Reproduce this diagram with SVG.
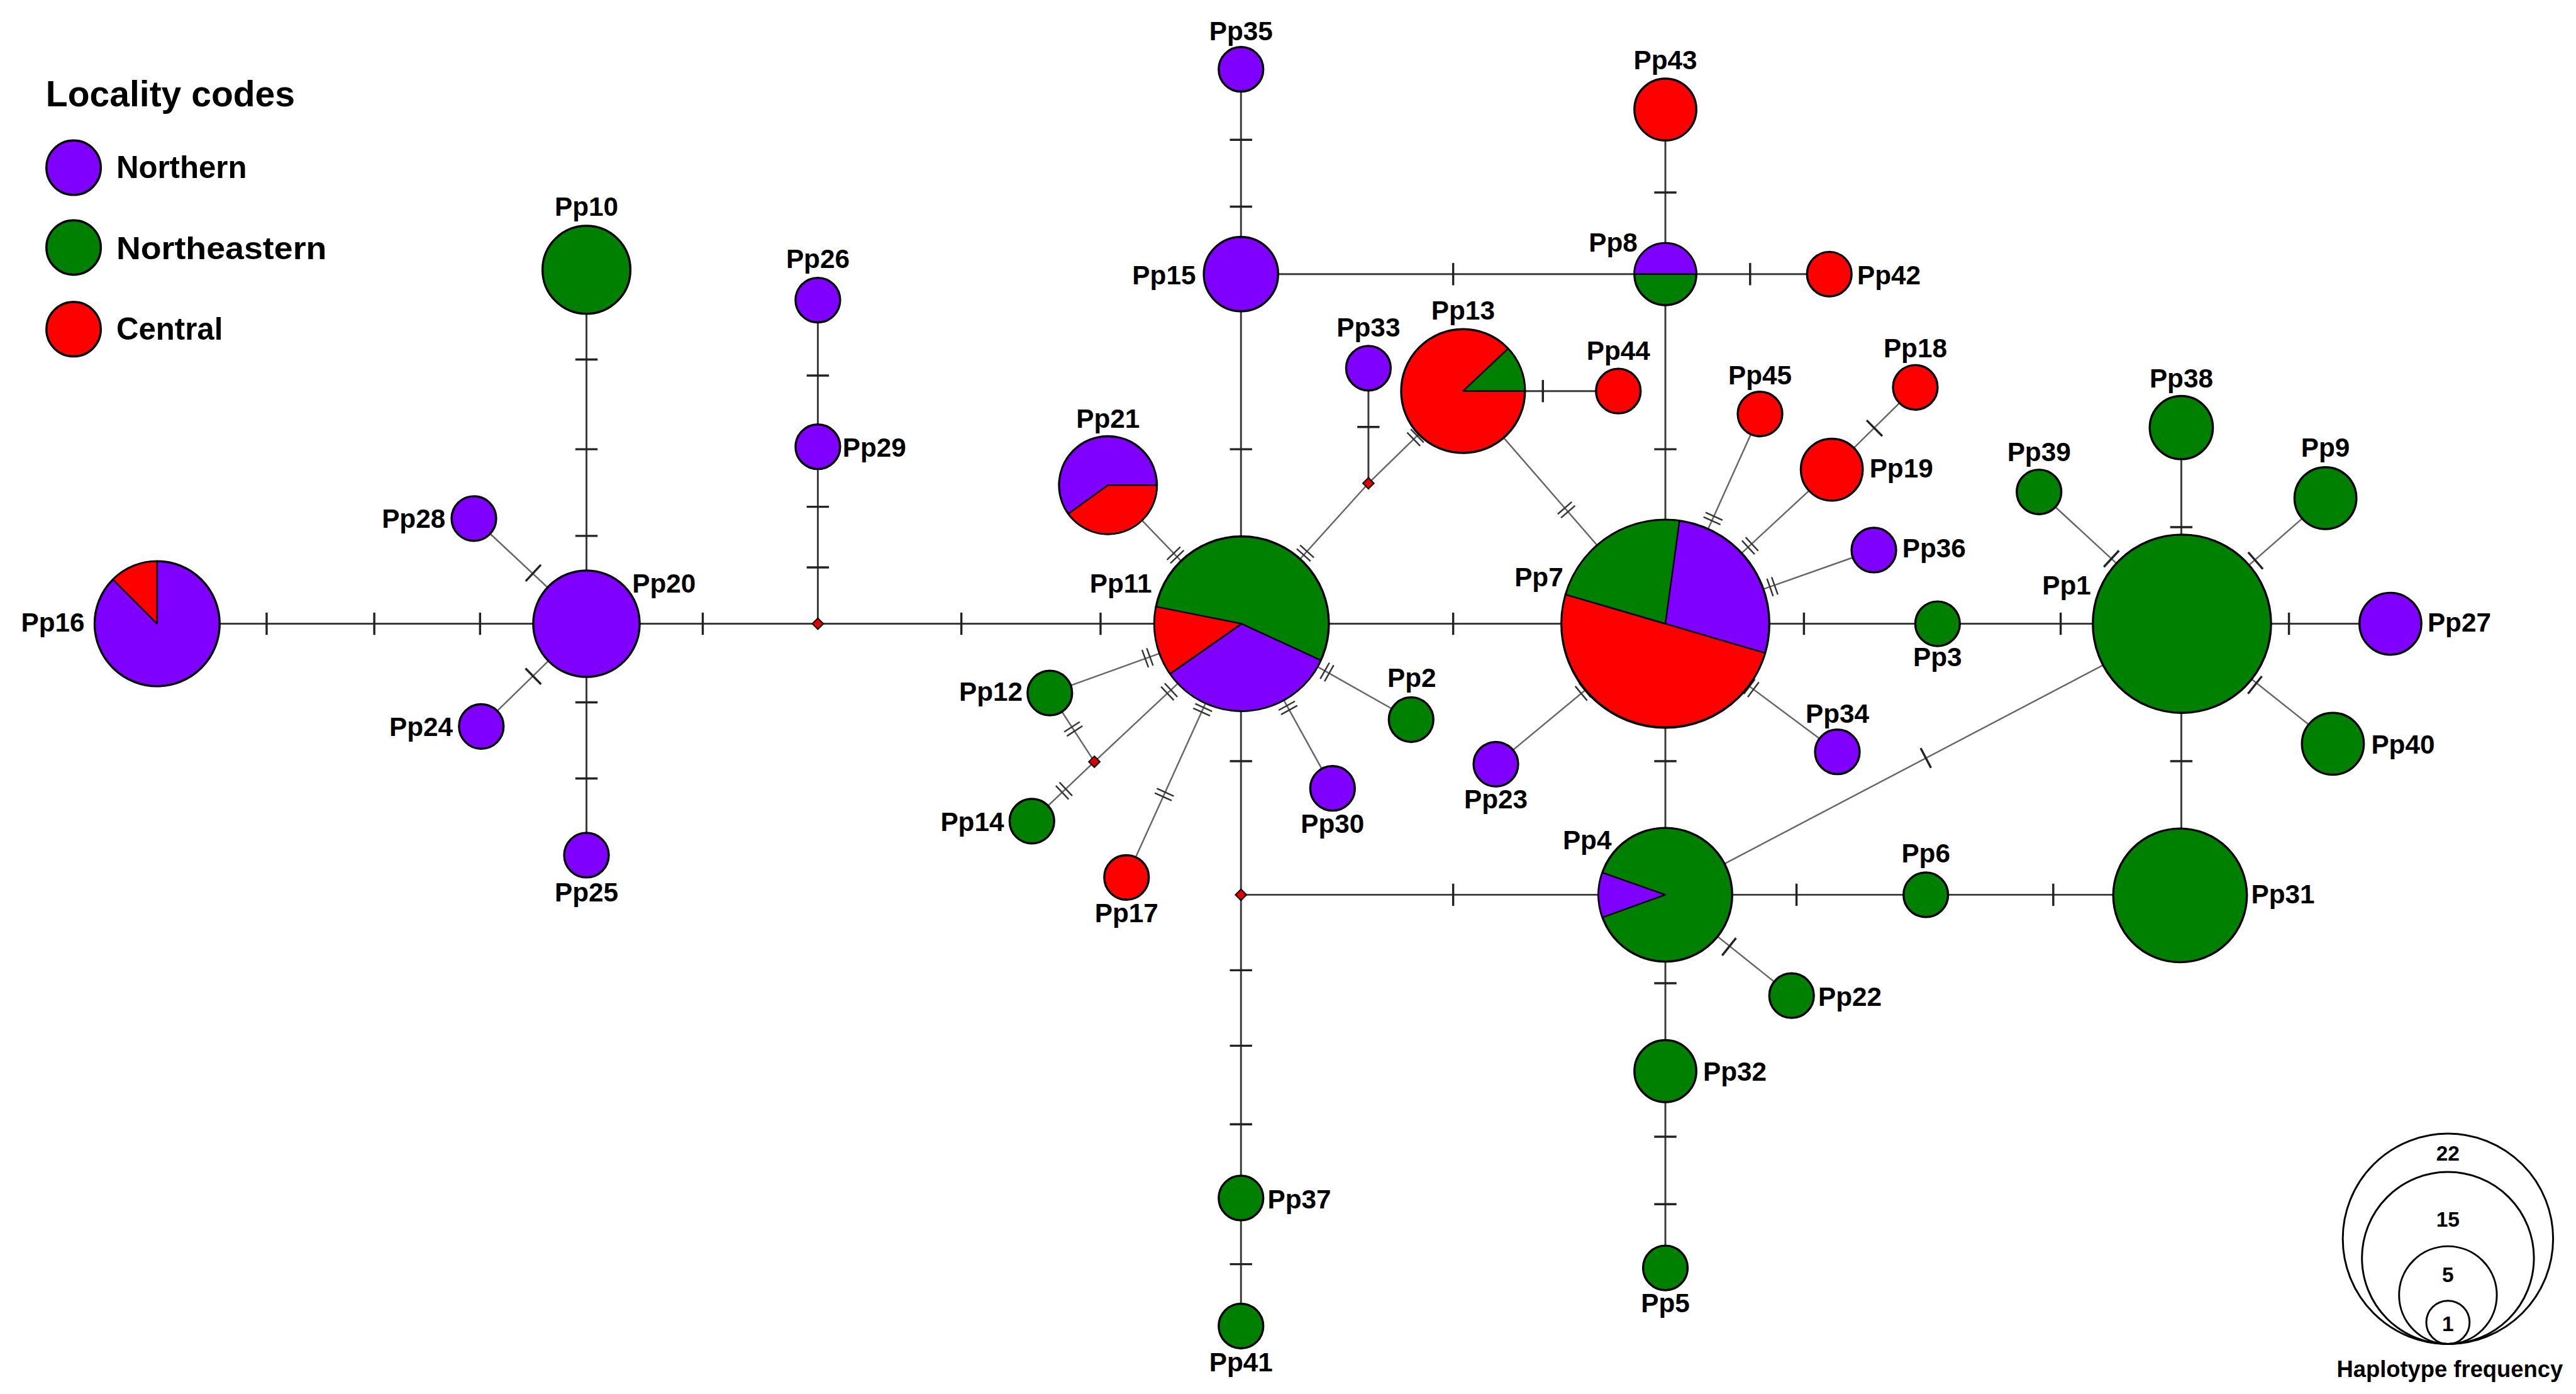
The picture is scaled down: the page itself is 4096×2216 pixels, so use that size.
<svg xmlns="http://www.w3.org/2000/svg" xmlns:xlink="http://www.w3.org/1999/xlink" width="4096" height="2216" viewBox="0 0 4096 2216">
<style>
.n{stroke:#000;stroke-width:3.5}
.w{stroke:#000;stroke-width:2.5;stroke-linejoin:round}
.pu{fill:#7F00FF}.gr{fill:#008000}.rd{fill:#FF0000}
.lb{font-family:"Liberation Sans",Arial,sans-serif;font-weight:bold;font-size:43px;fill:#000}
.s{stroke:#3a3a3a;stroke-width:3;fill:none}
.d{stroke:#666;stroke-width:2.5;fill:none}
.tk{stroke:#222;stroke-width:3.5}
.tk2{stroke:#333;stroke-width:2.5}
.sz{fill:none;stroke:#000;stroke-width:3}
</style>
<defs>
<line id="tk" class="tk" x1="0" y1="-18" x2="0" y2="18"/>
<g id="tk2" class="tk2"><line x1="-4" y1="-15" x2="-4" y2="15"/><line x1="4" y1="-15" x2="4" y2="15"/></g>
<path id="mv" d="M0,-9 L9,0 L0,9 L-9,0 Z" fill="#E00000" stroke="#000" stroke-width="2"/>
</defs>
<rect width="4096" height="2216" fill="#fff"/>
<g transform="scale(0.98367)">
<g id="connectors">
<line class="s" x1="254" y1="1008" x2="3864" y2="1008"/>
<line class="s" x1="948" y1="436" x2="948" y2="1382"/>
<line class="s" x1="1322" y1="485" x2="1322" y2="1008"/>
<line class="s" x1="2006" y1="112" x2="2006" y2="2143"/>
<line class="s" x1="2692" y1="177" x2="2692" y2="2049"/>
<line class="s" x1="2212" y1="595" x2="2212" y2="781"/>
<line class="s" x1="3526" y1="691" x2="3526" y2="1447"/>
<line class="s" x1="2006" y1="443" x2="2957" y2="443"/>
<line class="s" x1="2365" y1="632" x2="2616" y2="632"/>
<line class="s" x1="2006" y1="1446" x2="3526" y2="1446"/>
<line class="d" x1="766" y1="838" x2="948" y2="1008"/>
<line class="d" x1="778" y1="1174" x2="948" y2="1008"/>
<line class="d" x1="1791" y1="784" x2="2007" y2="1008"/>
<line class="d" x1="2007" y1="1008" x2="2212" y2="781"/>
<line class="d" x1="2212" y1="781" x2="2365" y2="632"/>
<line class="d" x1="2365" y1="632" x2="2692" y2="1008"/>
<line class="d" x1="1697" y1="1120" x2="2007" y2="1008"/>
<line class="d" x1="1697" y1="1120" x2="1769" y2="1231"/>
<line class="d" x1="1668" y1="1327" x2="1769" y2="1231"/>
<line class="d" x1="1769" y1="1231" x2="2007" y2="1008"/>
<line class="d" x1="1821" y1="1418" x2="2007" y2="1008"/>
<line class="d" x1="2154" y1="1274" x2="2007" y2="1008"/>
<line class="d" x1="2281" y1="1163" x2="2007" y2="1008"/>
<line class="d" x1="2418" y1="1235" x2="2692" y2="1008"/>
<line class="d" x1="2845" y1="669" x2="2692" y2="1008"/>
<line class="d" x1="2961" y1="759" x2="2692" y2="1008"/>
<line class="d" x1="3096" y1="626" x2="2961" y2="759"/>
<line class="d" x1="3029" y1="889" x2="2692" y2="1008"/>
<line class="d" x1="2970" y1="1215" x2="2692" y2="1008"/>
<line class="d" x1="3296" y1="795" x2="3527" y2="1008"/>
<line class="d" x1="3759" y1="805" x2="3527" y2="1008"/>
<line class="d" x1="3771" y1="1202" x2="3527" y2="1008"/>
<line class="d" x1="2692" y1="1446" x2="3527" y2="1008"/>
<line class="d" x1="2692" y1="1446" x2="2896" y2="1609"/>
<g id="ticks">
<use xlink:href="#tk" transform="translate(431,1008)"/>
<use xlink:href="#tk" transform="translate(605,1008)"/>
<use xlink:href="#tk" transform="translate(776,1008)"/>
<use xlink:href="#tk" transform="translate(1136,1008)"/>
<use xlink:href="#tk" transform="translate(1554,1008)"/>
<use xlink:href="#tk" transform="translate(1779,1008)"/>
<use xlink:href="#tk" transform="translate(2349,1008)"/>
<use xlink:href="#tk" transform="translate(2916,1008)"/>
<use xlink:href="#tk" transform="translate(3331,1008)"/>
<use xlink:href="#tk" transform="translate(3700,1008)"/>
<use xlink:href="#tk" transform="translate(948,581) rotate(90)"/>
<use xlink:href="#tk" transform="translate(948,726) rotate(90)"/>
<use xlink:href="#tk" transform="translate(948,866) rotate(90)"/>
<use xlink:href="#tk" transform="translate(948,1135) rotate(90)"/>
<use xlink:href="#tk" transform="translate(948,1258) rotate(90)"/>
<use xlink:href="#tk" transform="translate(1322,607) rotate(90)"/>
<use xlink:href="#tk" transform="translate(1322,819) rotate(90)"/>
<use xlink:href="#tk" transform="translate(1322,917) rotate(90)"/>
<use xlink:href="#tk" transform="translate(2006,226) rotate(90)"/>
<use xlink:href="#tk" transform="translate(2006,334) rotate(90)"/>
<use xlink:href="#tk" transform="translate(2006,726) rotate(90)"/>
<use xlink:href="#tk" transform="translate(2006,1230) rotate(90)"/>
<use xlink:href="#tk" transform="translate(2006,1568) rotate(90)"/>
<use xlink:href="#tk" transform="translate(2006,1690) rotate(90)"/>
<use xlink:href="#tk" transform="translate(2006,1817) rotate(90)"/>
<use xlink:href="#tk" transform="translate(2006,2043) rotate(90)"/>
<use xlink:href="#tk" transform="translate(2692,311) rotate(90)"/>
<use xlink:href="#tk" transform="translate(2692,726) rotate(90)"/>
<use xlink:href="#tk" transform="translate(2692,1230) rotate(90)"/>
<use xlink:href="#tk" transform="translate(2692,1589) rotate(90)"/>
<use xlink:href="#tk" transform="translate(2692,1837) rotate(90)"/>
<use xlink:href="#tk" transform="translate(2692,1946) rotate(90)"/>
<use xlink:href="#tk" transform="translate(2212,690) rotate(90)"/>
<use xlink:href="#tk" transform="translate(3526,852) rotate(90)"/>
<use xlink:href="#tk" transform="translate(3526,1230) rotate(90)"/>
<use xlink:href="#tk" transform="translate(2349,443)"/>
<use xlink:href="#tk" transform="translate(2829,443)"/>
<use xlink:href="#tk" transform="translate(2494,632)"/>
<use xlink:href="#tk" transform="translate(2349,1446)"/>
<use xlink:href="#tk" transform="translate(2904,1446)"/>
<use xlink:href="#tk" transform="translate(3319,1446)"/>
<use xlink:href="#tk" transform="translate(862,926) rotate(43)"/>
<use xlink:href="#tk" transform="translate(862,1093) rotate(-44.3)"/>
<use xlink:href="#tk" transform="translate(3030,692) rotate(-44.6)"/>
<use xlink:href="#tk" transform="translate(3413,903) rotate(42.7)"/>
<use xlink:href="#tk" transform="translate(3646,906) rotate(-41.1)"/>
<use xlink:href="#tk" transform="translate(3645,1107) rotate(38.4)"/>
<use xlink:href="#tk" transform="translate(3113,1225) rotate(-27.7)"/>
<use xlink:href="#tk" transform="translate(2795,1530) rotate(38.6)"/>
<use xlink:href="#tk2" transform="translate(1900,897) rotate(46)"/>
<use xlink:href="#tk2" transform="translate(2110,894) rotate(-47.9)"/>
<use xlink:href="#tk2" transform="translate(2288,707) rotate(-44.2)"/>
<use xlink:href="#tk2" transform="translate(2532,824) rotate(49)"/>
<use xlink:href="#tk2" transform="translate(1855,1063) rotate(-19.9)"/>
<use xlink:href="#tk2" transform="translate(1735,1178) rotate(57)"/>
<use xlink:href="#tk2" transform="translate(1720,1278) rotate(-43.5)"/>
<use xlink:href="#tk2" transform="translate(1890,1118) rotate(-43.1)"/>
<use xlink:href="#tk2" transform="translate(1882,1284) rotate(-65.6)"/>
<use xlink:href="#tk2" transform="translate(1944,1147) rotate(-65.6)"/>
<use xlink:href="#tk2" transform="translate(2082,1144) rotate(61.1)"/>
<use xlink:href="#tk2" transform="translate(2145,1086) rotate(29.5)"/>
<use xlink:href="#tk2" transform="translate(2559,1118) rotate(-39.6)"/>
<use xlink:href="#tk2" transform="translate(2769,838) rotate(-65.7)"/>
<use xlink:href="#tk2" transform="translate(2829,882) rotate(-42.8)"/>
<use xlink:href="#tk2" transform="translate(2865,948) rotate(-19.4)"/>
<use xlink:href="#tk2" transform="translate(2831,1112) rotate(36.7)"/>
</g>
</g>
<g id="mv1"><use xlink:href="#mv" transform="translate(1322,1008)"/></g>
<g id="mv2"><use xlink:href="#mv" transform="translate(2212,781)"/></g>
<g id="mv3"><use xlink:href="#mv" transform="translate(1769,1231)"/></g>
<g id="mv4"><use xlink:href="#mv" transform="translate(2006,1446)"/></g>
<g id="Pp16"><circle class="n pu" cx="254" cy="1008" r="101"/><path class="w rd" d="M254,1008 L182.6,936.6 A101,101 0 0 1 254,907 Z"/><text class="lb" x="34" y="1021">Pp16</text></g>
<g id="Pp20"><circle class="n pu" cx="948" cy="1008" r="86"/><text class="lb" x="1022" y="958">Pp20</text></g>
<g id="Pp10"><circle class="n gr" cx="948" cy="436" r="71"/><text class="lb" x="948" y="349" text-anchor="middle">Pp10</text></g>
<g id="Pp26"><circle class="n pu" cx="1322" cy="485" r="36"/><text class="lb" x="1322" y="433" text-anchor="middle">Pp26</text></g>
<g id="Pp29"><circle class="n pu" cx="1322" cy="722" r="36"/><text class="lb" x="1362" y="738">Pp29</text></g>
<g id="Pp28"><circle class="n pu" cx="766" cy="838" r="36"/><text class="lb" x="720" y="853" text-anchor="end">Pp28</text></g>
<g id="Pp24"><circle class="n pu" cx="778" cy="1174" r="36"/><text class="lb" x="732" y="1189" text-anchor="end">Pp24</text></g>
<g id="Pp25"><circle class="n pu" cx="948" cy="1382" r="36"/><text class="lb" x="948" y="1457" text-anchor="middle">Pp25</text></g>
<g id="Pp35"><circle class="n pu" cx="2006" cy="112" r="36"/><text class="lb" x="2006" y="65" text-anchor="middle">Pp35</text></g>
<g id="Pp15"><circle class="n pu" cx="2006" cy="443" r="60"/><text class="lb" x="1933" y="459" text-anchor="end">Pp15</text></g>
<g id="Pp8"><circle class="n gr" cx="2692" cy="443" r="50"/><path class="w pu" d="M2642,443 A50,50 0 0 1 2742,443 Z"/><text class="lb" x="2647" y="407" text-anchor="end">Pp8</text></g>
<g id="Pp43"><circle class="n rd" cx="2692" cy="177" r="50"/><text class="lb" x="2692" y="112" text-anchor="middle">Pp43</text></g>
<g id="Pp42"><circle class="n rd" cx="2957" cy="443" r="36"/><text class="lb" x="3002" y="459">Pp42</text></g>
<g id="Pp13"><circle class="n rd" cx="2365" cy="632" r="100"/><path class="w gr" d="M2365,632 L2437.8,563.4 A100,100 0 0 1 2465,632 Z"/><text class="lb" x="2365" y="516" text-anchor="middle">Pp13</text></g>
<g id="Pp44"><circle class="n rd" cx="2616" cy="632" r="36"/><text class="lb" x="2616" y="582" text-anchor="middle">Pp44</text></g>
<g id="Pp33"><circle class="n pu" cx="2212" cy="595" r="36"/><text class="lb" x="2212" y="544" text-anchor="middle">Pp33</text></g>
<g id="Pp21"><circle class="n pu" cx="1791" cy="784" r="79"/><path class="w rd" d="M1791,784 L1870,784 A79,79 0 0 1 1727.1,830.4 Z"/><text class="lb" x="1791" y="691" text-anchor="middle">Pp21</text></g>
<g id="Pp11"><circle class="n gr" cx="2007" cy="1008" r="141"/><path class="w pu" d="M2007,1008 L2135,1067.1 A141,141 0 0 1 1891.5,1088.9 Z"/><path class="w rd" d="M2007,1008 L1891.5,1088.9 A141,141 0 0 1 1868.7,980.4 Z"/><text class="lb" x="1862" y="958" text-anchor="end">Pp11</text></g>
<g id="Pp7"><circle class="n pu" cx="2692" cy="1008" r="168"/><path class="w rd" d="M2692,1008 L2853.2,1055.4 A168,168 0 0 1 2530.8,960.8 Z"/><path class="w gr" d="M2692,1008 L2530.8,960.8 A168,168 0 0 1 2714.8,841.6 Z"/><text class="lb" x="2527" y="947" text-anchor="end">Pp7</text></g>
<g id="Pp45"><circle class="n rd" cx="2845" cy="669" r="36"/><text class="lb" x="2845" y="621" text-anchor="middle">Pp45</text></g>
<g id="Pp18"><circle class="n rd" cx="3096" cy="626" r="36"/><text class="lb" x="3096" y="577" text-anchor="middle">Pp18</text></g>
<g id="Pp19"><circle class="n rd" cx="2961" cy="759" r="50"/><text class="lb" x="3022" y="772">Pp19</text></g>
<g id="Pp36"><circle class="n pu" cx="3029" cy="889" r="36"/><text class="lb" x="3075" y="901">Pp36</text></g>
<g id="Pp3"><circle class="n gr" cx="3132" cy="1008" r="36"/><text class="lb" x="3132" y="1077" text-anchor="middle">Pp3</text></g>
<g id="Pp1"><circle class="n gr" cx="3527" cy="1008" r="144"/><text class="lb" x="3380" y="961" text-anchor="end">Pp1</text></g>
<g id="Pp38"><circle class="n gr" cx="3526" cy="691" r="51"/><text class="lb" x="3526" y="626" text-anchor="middle">Pp38</text></g>
<g id="Pp39"><circle class="n gr" cx="3296" cy="795" r="36"/><text class="lb" x="3296" y="745" text-anchor="middle">Pp39</text></g>
<g id="Pp9"><circle class="n gr" cx="3759" cy="805" r="50"/><text class="lb" x="3759" y="738" text-anchor="middle">Pp9</text></g>
<g id="Pp27"><circle class="n pu" cx="3864" cy="1008" r="50"/><text class="lb" x="3924" y="1021">Pp27</text></g>
<g id="Pp40"><circle class="n gr" cx="3771" cy="1202" r="50"/><text class="lb" x="3833" y="1218">Pp40</text></g>
<g id="Pp34"><circle class="n pu" cx="2970" cy="1215" r="36"/><text class="lb" x="2970" y="1168" text-anchor="middle">Pp34</text></g>
<g id="Pp31"><circle class="n gr" cx="3524" cy="1447" r="108"/><text class="lb" x="3639" y="1460">Pp31</text></g>
<g id="Pp6"><circle class="n gr" cx="3113" cy="1446" r="36"/><text class="lb" x="3113" y="1394" text-anchor="middle">Pp6</text></g>
<g id="Pp22"><circle class="n gr" cx="2896" cy="1609" r="36"/><text class="lb" x="2939" y="1626">Pp22</text></g>
<g id="Pp4"><circle class="n gr" cx="2692" cy="1446" r="108"/><path class="w pu" d="M2692,1446 L2590.4,1482.6 A108,108 0 0 1 2590.1,1410.1 Z"/><text class="lb" x="2605" y="1372" text-anchor="end">Pp4</text></g>
<g id="Pp2"><circle class="n gr" cx="2281" cy="1163" r="36"/><text class="lb" x="2282" y="1110" text-anchor="middle">Pp2</text></g>
<g id="Pp12"><circle class="n gr" cx="1697" cy="1120" r="36"/><text class="lb" x="1653" y="1133" text-anchor="end">Pp12</text></g>
<g id="Pp14"><circle class="n gr" cx="1668" cy="1327" r="36"/><text class="lb" x="1623" y="1343" text-anchor="end">Pp14</text></g>
<g id="Pp17"><circle class="n rd" cx="1821" cy="1418" r="36"/><text class="lb" x="1821" y="1490" text-anchor="middle">Pp17</text></g>
<g id="Pp30"><circle class="n pu" cx="2154" cy="1274" r="36"/><text class="lb" x="2154" y="1346" text-anchor="middle">Pp30</text></g>
<g id="Pp23"><circle class="n pu" cx="2418" cy="1235" r="36"/><text class="lb" x="2418" y="1306" text-anchor="middle">Pp23</text></g>
<g id="Pp32"><circle class="n gr" cx="2692" cy="1731" r="50"/><text class="lb" x="2753" y="1747">Pp32</text></g>
<g id="Pp5"><circle class="n gr" cx="2692" cy="2049" r="36"/><text class="lb" x="2692" y="2121" text-anchor="middle">Pp5</text></g>
<g id="Pp37"><circle class="n gr" cx="2006" cy="1936" r="36"/><text class="lb" x="2049" y="1953">Pp37</text></g>
<g id="Pp41"><circle class="n gr" cx="2006" cy="2143" r="36"/><text class="lb" x="2006" y="2216" text-anchor="middle">Pp41</text></g>
<g id="legend-locality">
<text class="lb" x="74" y="172" style="font-size:58px">Locality codes</text>
<circle class="n pu" cx="119" cy="271" r="44"/>
<circle class="n gr" cx="119" cy="400" r="44"/>
<circle class="n rd" cx="119" cy="532" r="44"/>
<text class="lb" x="188" y="288" style="font-size:50px">Northern</text>
<text class="lb" x="188" y="419" style="font-size:50px" textLength="340" lengthAdjust="spacingAndGlyphs">Northeastern</text>
<text class="lb" x="188" y="549" style="font-size:50px">Central</text>
</g>
<g id="legend-size">
<circle class="sz" cx="3957" cy="2002" r="170"/>
<circle class="sz" cx="3957" cy="2033" r="139"/>
<circle class="sz" cx="3957" cy="2093" r="79"/>
<circle class="sz" cx="3957" cy="2137" r="35"/>
<text class="lb" x="3957" y="1876" text-anchor="middle" style="font-size:34px">22</text>
<text class="lb" x="3957" y="1982" text-anchor="middle" style="font-size:34px">15</text>
<text class="lb" x="3957" y="2072" text-anchor="middle" style="font-size:34px">5</text>
<text class="lb" x="3957" y="2151" text-anchor="middle" style="font-size:34px">1</text>
<text class="lb" x="3960" y="2225" text-anchor="middle" style="font-size:37px">Haplotype frequency</text>
</g>
</g>
</svg>
